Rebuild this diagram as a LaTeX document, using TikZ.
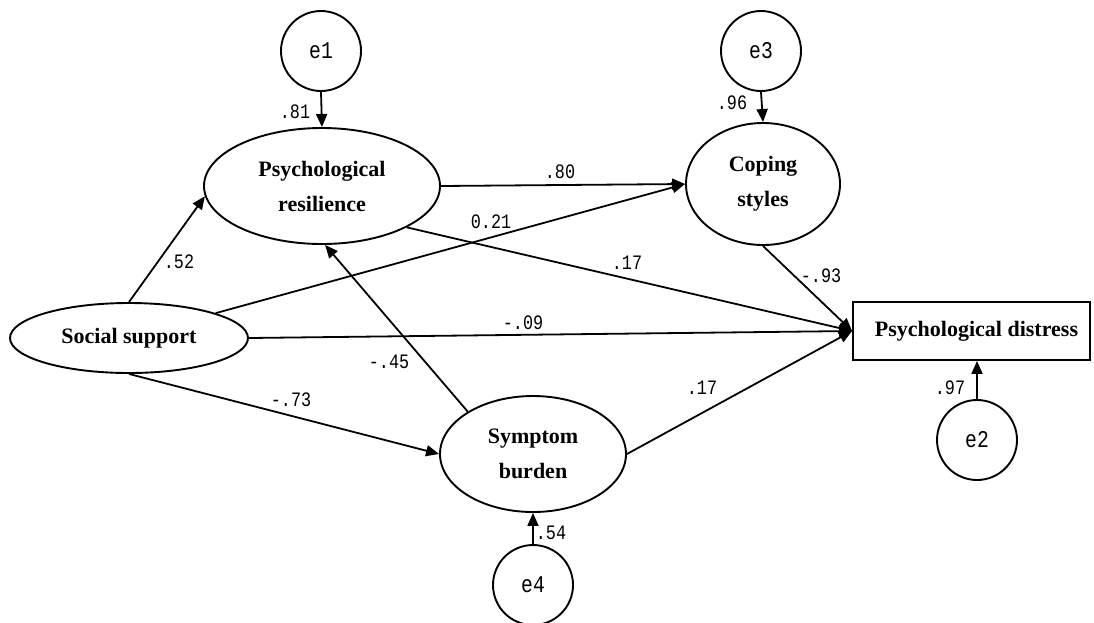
\documentclass[tikz,border=0pt]{standalone}
\usepackage{fontspec}
\setmainfont{Liberation Serif}
\newfontfamily\coeffont[FakeStretch=0.82]{Liberation Mono}
\usetikzlibrary{shapes.geometric,arrows.meta}
\begin{document}
\begin{tikzpicture}[x=1pt,y=-1pt,
  lat/.style={ellipse, draw, line width=1.9pt, inner sep=0pt, align=center,
    font=\fontsize{22}{35}\selectfont\bfseries},
  obs/.style={rectangle, draw, line width=1.9pt, inner sep=0pt,
    font=\fontsize{22}{35}\selectfont\bfseries},
  err/.style={circle, draw, line width=1.9pt, minimum size=80pt, inner sep=0pt,
    font=\coeffont\fontsize{24}{24}\selectfont},
  arr/.style={line width=1.8pt, -{Triangle[length=13pt,width=11pt]}},
  lbl/.style={inner sep=0pt, font=\coeffont\fontsize{20.5}{20.5}\selectfont}]
\useasboundingbox[fill=white] (0,0) rectangle (1094,622);
% latent / observed nodes
\node[lat, minimum width=236pt, minimum height=116pt] (pr) at (322,186) {Psychological\\resilience};
\node[lat, minimum width=154pt, minimum height=122pt] (cs) at (763,184) {Coping\\styles};
\node[lat, minimum width=238pt, minimum height=70pt] (ss) at (129,338) {Social support};
\node[lat, minimum width=186pt, minimum height=116pt] (sb) at (533,454) {Symptom\\burden};
\node[obs, minimum width=237pt, minimum height=58pt] (pd) at (971.5,331) {\hspace*{10pt}Psychological distress};
% error terms
\node[err] (e1) at (321,51) {e1};
\node[err] (e3) at (761,51) {e3};
\node[err] (e2) at (977,440) {e2};
\node[err] (e4) at (533,585) {e4};
% paths
\draw[arr] (e1.south) -- (pr.north);
\draw[arr] (e3.south) -- (cs.north);
\draw[arr] (e4.north) -- (sb.south);
\draw[arr] (e2.north) -- (e2.north |- pd.south);
\draw[arr] (ss.north) -- (pr.185);
\draw[arr] (pr.east) -- (cs.west);
\draw[arr] (ss.16) -- (cs.west);
\draw[arr] (pr.-26) -- (pd.west);
\draw[arr] (ss.east) -- (pd.west);
\draw[arr] (sb.147) -- (pr.-87);
\draw[arr] (ss.south) -- (sb.west);
\draw[arr] (sb.east) -- (pd.west);
\draw[arr] (cs.south) -- (pd.west);
% coefficients
\node[lbl] (l81) at (295,112) {.81};
\node[lbl] (l96) at (732,103) {.96};
\node[lbl] (l80) at (560,172) {.80};
\node[lbl] (l21) at (491,222) {0.21};
\node[lbl] (l52) at (179,262) {.52};
\node[lbl] (l17a) at (627,263) {.17};
\node[lbl] (l93) at (821,276) {-.93};
\node[lbl] (l09) at (523,323) {-.09};
\node[lbl] (l45) at (389,362) {-.45};
\node[lbl] (l73) at (291,400) {-.73};
\node[lbl] (l17b) at (702,388) {.17};
\node[lbl] (l97) at (950,388) {.97};
\node[lbl] (l54) at (551,533) {.54};
\end{tikzpicture}
\end{document}
